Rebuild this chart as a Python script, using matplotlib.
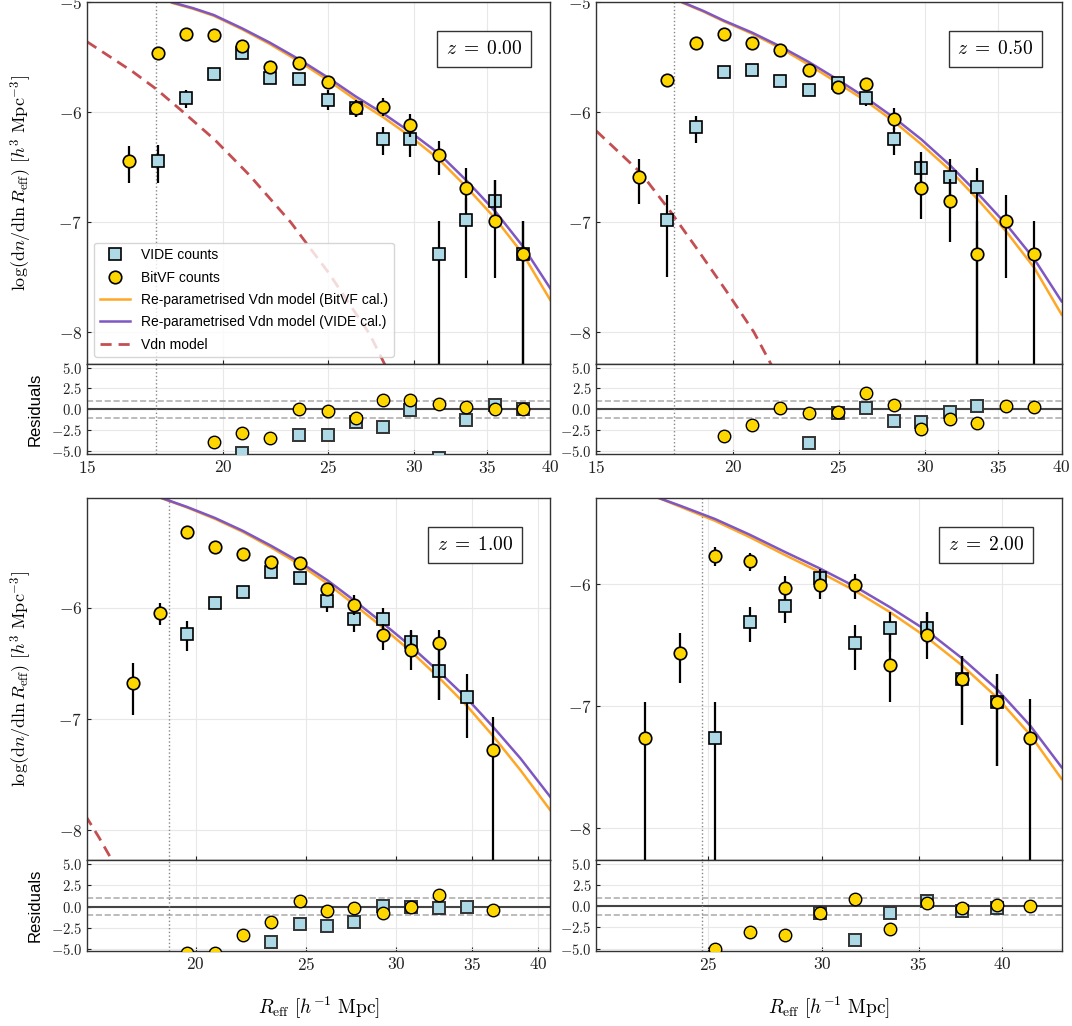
import numpy as np
import matplotlib
matplotlib.use("Agg")
import matplotlib.pyplot as plt
from matplotlib.ticker import FixedLocator, ScalarFormatter, NullLocator, MultipleLocator

plt.rcParams.update({
    "font.family": "serif",
    "font.serif": ["cmr10"],
    "mathtext.fontset": "cm",
    "axes.formatter.use_mathtext": True,
    "axes.unicode_minus": True,
})

# big lower errors run off the bottom of the axes (count consistent with zero)
OFF = 9.0
nan = np.nan

# ---------------- z = 0.00 ----------------
z0_x = [16.4, 17.42, 18.5, 19.62, 20.83, 22.1, 23.5, 24.97, 26.5, 28.1, 29.75, 31.6, 33.5, 35.6, 37.76]
z0_bitvf = [-6.445, -5.461, -5.291, -5.297, -5.394, -5.591, -5.548, -5.727, -5.964, -5.948, -6.115, -6.388, -6.685, -6.985, -7.288]
z0_bitvf_up = [0.14, 0.03, 0.02, 0.02, 0.03, 0.04, 0.04, 0.05, 0.06, 0.08, 0.1, 0.13, 0.18, 0.37, 0.3]
z0_bitvf_lo = [0.2, 0.03, 0.02, 0.02, 0.03, 0.04, 0.04, 0.05, 0.08, 0.09, 0.11, 0.18, 0.2, 0.52, OFF]
z0_bitvf_res = [nan, nan, nan, -3.9, -2.8, -3.5, 0.08, -0.24, -1.0, 1.16, 1.16, 0.6, 0.28, 0.08, 0.08]
z0_vx = [17.42, 18.5, 19.62, 20.83, 22.1, 23.5, 24.97, 26.5, 28.1, 29.75, 31.6, 33.5, 35.6, 37.76]
z0_vide = [-6.439, -5.87, -5.655, -5.461, -5.69, -5.697, -5.888, -5.96, -6.245, -6.245, -7.285, -6.979, -6.803, -7.285]
z0_vide_up = [0.14, 0.07, 0.04, 0.03, 0.04, 0.04, 0.095, 0.07, 0.115, 0.1, 0.3, 0.2, 0.19, 0.3]
z0_vide_lo = [0.2, 0.09, 0.05, 0.03, 0.05, 0.05, 0.095, 0.08, 0.14, 0.16, OFF, 0.53, 0.2, OFF]
z0_vide_res = [nan, nan, nan, -5.2, nan, -3.05, -3.13, -1.5, -2.13, -0.12, -5.8, -1.29, 0.52, 0.0]
z0_mx = [17.96, 18.77, 19.62, 20.83, 22.1, 23.5, 24.97, 26.5, 28.1, 29.75, 31.6, 33.5, 35.6, 37.76, 40.0]
z0_model_vide = [-5.0, -5.052, -5.115, -5.236, -5.367, -5.518, -5.682, -5.856, -6.012, -6.18, -6.375, -6.62, -6.9, -7.22, -7.6]
z0_model_bitvf = [-5.005, -5.058, -5.122, -5.245, -5.38, -5.537, -5.706, -5.886, -6.046, -6.22, -6.427, -6.68, -6.965, -7.29, -7.706]
z0_vdn_x = [15.0, 16.52, 17.35, 18.35, 19.66, 21.15, 23.09, 25.02, 27.3, 28.2]
z0_vdn = [-5.358, -5.63, -5.785, -5.99, -6.25, -6.57, -7.0, -7.46, -8.02, -8.3]

# ---------------- z = 0.50 ----------------
z05_x = z0_x
z05_bitvf = [-6.588, -5.709, -5.37, -5.291, -5.373, -5.43, -5.612, -5.773, -5.745, -6.06, -6.685, -6.809, -7.288, -6.985, -7.288]
z05_bitvf_up = [0.16, 0.04, 0.02, 0.02, 0.02, 0.03, 0.04, 0.04, 0.06, 0.1, 0.25, 0.2, 0.3, 0.235, 0.3]
z05_bitvf_lo = [0.25, 0.04, 0.02, 0.02, 0.02, 0.03, 0.04, 0.04, 0.06, 0.1, 0.29, 0.37, OFF, 0.52, OFF]
z05_bitvf_res = [nan, nan, nan, -3.25, -1.9, 0.12, -0.5, -0.28, 2.0, 0.52, -2.33, -1.16, -1.69, 0.36, 0.28]
z05_vx = [17.42, 18.5, 19.62, 20.83, 22.1, 23.5, 24.97, 26.5, 28.1, 29.75, 31.6, 33.5]
z05_vide = [-6.982, -6.136, -5.636, -5.618, -5.715, -5.797, -5.736, -5.873, -6.242, -6.509, -6.585, -6.682]
z05_vide_up = [0.23, 0.1, 0.04, 0.03, 0.04, 0.05, 0.04, 0.05, 0.1, 0.15, 0.157, 0.173]
z05_vide_lo = [0.52, 0.14, 0.04, 0.03, 0.04, 0.05, 0.04, 0.07, 0.145, 0.2, 0.2, OFF]
z05_vide_res = [nan, nan, nan, nan, nan, -4.1, -0.48, 0.16, -1.45, -1.53, -0.36, 0.4]
z05_mx = [18.0, 18.8, 19.62, 20.83, 22.1, 23.5, 24.97, 26.5, 28.1, 29.75, 31.6, 33.5, 35.6, 37.76, 40.0]
z05_model_vide = [-5.0, -5.078, -5.165, -5.275, -5.4, -5.545, -5.705, -5.87, -6.05, -6.245, -6.48, -6.735, -7.02, -7.335, -7.72]
z05_model_bitvf = [-5.005, -5.084, -5.172, -5.285, -5.415, -5.57, -5.735, -5.9, -6.085, -6.29, -6.525, -6.79, -7.085, -7.415, -7.84]
z05_vdn_x = [15.0, 16.47, 17.5, 18.57, 19.71, 20.91, 21.7]
z05_vdn = [-6.17, -6.55, -6.89, -7.25, -7.62, -8.0, -8.3]

# ---------------- z = 1.00 ----------------
z1_x = [17.6, 18.6, 19.65, 20.8, 22.0, 23.3, 24.68, 26.11, 27.58, 29.2, 30.93, 32.72, 36.5]
z1_bitvf = [-6.678, -6.048, -5.313, -5.451, -5.517, -5.589, -5.594, -5.828, -5.97, -6.241, -6.376, -6.316, -7.279]
z1_bitvf_up = [0.18, 0.09, 0.02, 0.02, 0.03, 0.04, 0.04, 0.05, 0.09, 0.1, 0.18, 0.12, 0.3]
z1_bitvf_lo = [0.29, 0.11, 0.02, 0.02, 0.03, 0.04, 0.04, 0.05, 0.09, 0.14, 0.18, 0.51, OFF]
z1_bitvf_res = [nan, nan, -5.5, -5.45, -3.35, -1.83, 0.64, -0.48, -0.16, -0.72, -0.08, 1.39, -0.4]
z1_vx = [19.65, 20.8, 22.0, 23.3, 24.68, 26.11, 27.58, 29.2, 30.93, 32.72, 34.62]
z1_vide = [-6.237, -5.955, -5.859, -5.679, -5.729, -5.934, -6.1, -6.1, -6.31, -6.572, -6.798]
z1_vide_up = [0.12, 0.05, 0.05, 0.04, 0.04, 0.05, 0.08, 0.1, 0.1, 0.21, 0.2]
z1_vide_lo = [0.15, 0.05, 0.05, 0.05, 0.05, 0.1, 0.12, 0.1, 0.1, 0.26, 0.37]
z1_vide_res = [nan, nan, nan, -4.22, -2.07, -2.35, -1.87, 0.08, -0.08, -0.2, 0.0]
z1_mx = [18.67, 19.65, 20.8, 22.0, 23.3, 24.68, 26.11, 27.58, 29.2, 30.93, 32.72, 34.62, 36.5, 38.6, 41.0]
z1_model_vide = [-5.01, -5.09, -5.19, -5.305, -5.44, -5.585, -5.75, -5.934, -6.135, -6.346, -6.572, -6.812, -7.068, -7.354, -7.7]
z1_model_bitvf = [-5.012, -5.095, -5.198, -5.315, -5.455, -5.607, -5.78, -5.97, -6.175, -6.392, -6.626, -6.879, -7.15, -7.46, -7.82]
z1_vdn_x = [16.0, 16.45, 16.9]
z1_vdn = [-7.87, -8.07, -8.28]

# ---------------- z = 2.00 ----------------
z2_x = [22.6, 23.9, 25.27, 26.72, 28.25, 29.87, 31.62, 33.45, 35.45, 37.5, 39.67, 41.85]
z2_bitvf = [-7.264, -6.561, -5.767, -5.811, -6.033, -6.008, -6.008, -6.663, -6.417, -6.78, -6.963, -7.263]
z2_bitvf_up = [0.3, 0.16, 0.07, 0.07, 0.1, 0.12, 0.09, 0.25, 0.19, 0.19, 0.23, 0.32]
z2_bitvf_lo = [OFF, 0.25, 0.08, 0.085, 0.1, 0.115, 0.115, 0.3, 0.2, 0.37, 0.53, OFF]
z2_bitvf_res = [nan, nan, -5.08, -3.0, -3.44, -0.84, 0.8, -2.64, 0.4, -0.2, 0.2, 0.04]
z2_vx = [25.27, 26.72, 28.25, 29.87, 31.62, 33.45, 35.45, 37.5, 39.67]
z2_vide = [-7.264, -6.306, -6.178, -5.953, -6.48, -6.357, -6.357, -6.78, -6.963]
z2_vide_up = [0.3, 0.12, 0.12, 0.08, 0.145, 0.13, 0.13, 0.19, 0.23]
z2_vide_lo = [OFF, 0.17, 0.14, 0.05, 0.225, 0.2, 0.13, 0.37, 0.53]
z2_vide_res = [nan, nan, nan, -0.84, -3.96, -0.8, 0.56, -0.56, -0.16]
z2_mx = [23.05, 23.9, 25.27, 26.72, 28.25, 29.87, 31.62, 33.45, 35.45, 37.5, 39.67, 41.85, 44.0]
z2_model_vide = [-5.29, -5.357, -5.466, -5.595, -5.735, -5.87, -6.02, -6.19, -6.38, -6.605, -6.86, -7.16, -7.5]
z2_model_bitvf = [-5.29, -5.365, -5.481, -5.615, -5.76, -5.9, -6.055, -6.231, -6.435, -6.663, -6.928, -7.235, -7.596]

redshifts = ["0.00", "0.50", "1.00", "2.00"]
r_cut = [17.36, 17.66, 18.94, 24.73]

VIDE_C = "#add8e6"
BITVF_C = "#ffd700"
BITVF_LINE = "#ffa726"
VIDE_LINE = "#7e57c2"
VDN_C = "#c44e52"

fig = plt.figure(figsize=(10.72, 10.26), dpi=100)

# [left, bottom, width, residual bottom] of each main/residual pair
boxes = [
    (0.0812, 0.6452, 0.432, 0.5575),
    (0.5563, 0.6452, 0.434, 0.5575),
    (0.0812, 0.1618, 0.432, 0.0731),
    (0.5563, 0.1618, 0.434, 0.0731),
]
main_h = 0.3528
zbox_x = [0.94, 0.94, 0.92, 0.92]

panels = [
    dict(x=z0_x, b=z0_bitvf, bu=z0_bitvf_up, bl=z0_bitvf_lo, br=z0_bitvf_res,
         vx=z0_vx, v=z0_vide, vu=z0_vide_up, vl=z0_vide_lo, vr=z0_vide_res,
         mx=z0_mx, mv=z0_model_vide, mb=z0_model_bitvf, dx=z0_vdn_x, dy=z0_vdn,
         xlim=(15, 40), ylim=(-8.29, -4.997), rlim=(-5.38, 5.42)),
    dict(x=z05_x, b=z05_bitvf, bu=z05_bitvf_up, bl=z05_bitvf_lo, br=z05_bitvf_res,
         vx=z05_vx, v=z05_vide, vu=z05_vide_up, vl=z05_vide_lo, vr=z05_vide_res,
         mx=z05_mx, mv=z05_model_vide, mb=z05_model_bitvf, dx=z05_vdn_x, dy=z05_vdn,
         xlim=(15, 40), ylim=(-8.29, -4.997), rlim=(-5.38, 5.42)),
    dict(x=z1_x, b=z1_bitvf, bu=z1_bitvf_up, bl=z1_bitvf_lo, br=z1_bitvf_res,
         vx=z1_vx, v=z1_vide, vu=z1_vide_up, vl=z1_vide_lo, vr=z1_vide_res,
         mx=z1_mx, mv=z1_model_vide, mb=z1_model_bitvf, dx=z1_vdn_x, dy=z1_vdn,
         xlim=(16.05, 41.0), ylim=(-8.27, -5.01), rlim=(-5.25, 5.5)),
    dict(x=z2_x, b=z2_bitvf, bu=z2_bitvf_up, bl=z2_bitvf_lo, br=z2_bitvf_res,
         vx=z2_vx, v=z2_vide, vu=z2_vide_up, vl=z2_vide_lo, vr=z2_vide_res,
         mx=z2_mx, mv=z2_model_vide, mb=z2_model_bitvf, dx=None, dy=None,
         xlim=(20.9, 44.0), ylim=(-8.26, -5.294), rlim=(-5.28, 5.45)),
]

for i, p in enumerate(panels):
    left, bot, width, rbot = boxes[i]
    ax = fig.add_axes([left, bot, width, main_h])
    rax = fig.add_axes([left, rbot, width, bot - rbot], sharex=ax)

    # model curves
    ax.plot(p["mx"], p["mb"], color=BITVF_LINE, lw=1.8, zorder=2,
            label="Re-parametrised Vdn model (BitVF cal.)")
    ax.plot(p["mx"], p["mv"], color=VIDE_LINE, lw=1.8, zorder=2,
            label="Re-parametrised Vdn model (VIDE cal.)")
    if p["dx"] is not None:
        ax.plot(p["dx"], p["dy"], color=VDN_C, lw=2, ls=(0, (4, 2.5)), zorder=2,
                label="Vdn model")

    # counts with error bars
    ax.errorbar(p["vx"], p["v"], yerr=[p["vl"], p["vu"]], fmt="none",
                ecolor="k", elinewidth=1.6, capsize=0, zorder=3)
    ax.plot(p["vx"], p["v"], "s", ms=8.5, mfc=VIDE_C, mec="k", mew=1.2,
            zorder=4, label="VIDE counts")
    ax.errorbar(p["x"], p["b"], yerr=[p["bl"], p["bu"]], fmt="none",
                ecolor="k", elinewidth=1.6, capsize=0, zorder=5)
    ax.plot(p["x"], p["b"], "o", ms=9, mfc=BITVF_C, mec="k", mew=1.2,
            zorder=6, label="BitVF counts")

    # residuals
    rax.axhline(0, color="#444444", lw=1.5, zorder=1)
    rax.axhline(1, color="#b0b0b0", lw=1.2, ls="--", zorder=1)
    rax.axhline(-1, color="#b0b0b0", lw=1.2, ls="--", zorder=1)
    rax.plot(p["vx"], p["vr"], "s", ms=8.5, mfc=VIDE_C, mec="#333333", mew=1.4, zorder=4)
    rax.plot(p["x"], p["br"], "o", ms=9, mfc=BITVF_C, mec="k", mew=1.0, zorder=6)

    for a in (ax, rax):
        a.axvline(r_cut[i], color="#888888", lw=1, ls=":", zorder=1)
        a.set_xscale("log")
        a.grid(True, color="#e8e8e8", lw=0.8, zorder=0)
        a.set_axisbelow(True)
        for s in a.spines.values():
            s.set_color("#333333")
            s.set_linewidth(1.0)
        a.tick_params(direction="in", length=3, width=0.8, colors="#222222")

    ax.set_xlim(*p["xlim"])
    ax.set_ylim(*p["ylim"])
    rax.set_ylim(*p["rlim"])
    rax.xaxis.set_major_locator(FixedLocator([15, 20, 25, 30, 35, 40]))
    rax.xaxis.set_major_formatter(ScalarFormatter())
    rax.xaxis.set_minor_locator(NullLocator())
    ax.yaxis.set_major_locator(MultipleLocator(1))
    rax.yaxis.set_major_locator(FixedLocator([-5, -2.5, 0, 2.5, 5]))
    ax.tick_params(labelbottom=False, labelsize=12.5)
    rax.tick_params(axis="x", labelsize=12.5)
    rax.tick_params(axis="y", labelsize=10.5)

    ax.text(zbox_x[i], 0.895, r"$z\;=\;%s$" % redshifts[i],
            transform=ax.transAxes, ha="right", va="top", fontsize=14, zorder=10,
            bbox=dict(boxstyle="square,pad=0.45", fc="white", ec="#333333", lw=1.0))

    if i % 2 == 0:
        ax.set_ylabel(r"$\log(\mathrm{d}n/\mathrm{d}\ln R_{\mathrm{eff}})\ [h^3\ \mathrm{Mpc}^{-3}]$",
                      fontsize=13)
        ax.yaxis.set_label_coords(-0.114, 0.5)
        rax.set_ylabel("Residuals", fontsize=12, family="Liberation Sans")
        rax.yaxis.set_label_coords(-0.095, 0.5)
    if i >= 2:
        rax.set_xlabel(r"$R_{\mathrm{eff}}\ [h^{-1}\ \mathrm{Mpc}]$", fontsize=14, labelpad=16)

    if i == 0:
        h, l = ax.get_legend_handles_labels()
        order = [l.index(n) for n in ["VIDE counts", "BitVF counts",
                                      "Re-parametrised Vdn model (BitVF cal.)",
                                      "Re-parametrised Vdn model (VIDE cal.)",
                                      "Vdn model"]]
        leg = ax.legend([h[k] for k in order], [l[k] for k in order], loc="lower left",
                        prop={"family": "Liberation Sans", "size": 10},
                        framealpha=0.8, numpoints=1, handlelength=2.2,
                        labelspacing=0.6)
        leg.set_zorder(20)

fig.savefig("out.png", dpi=100)
